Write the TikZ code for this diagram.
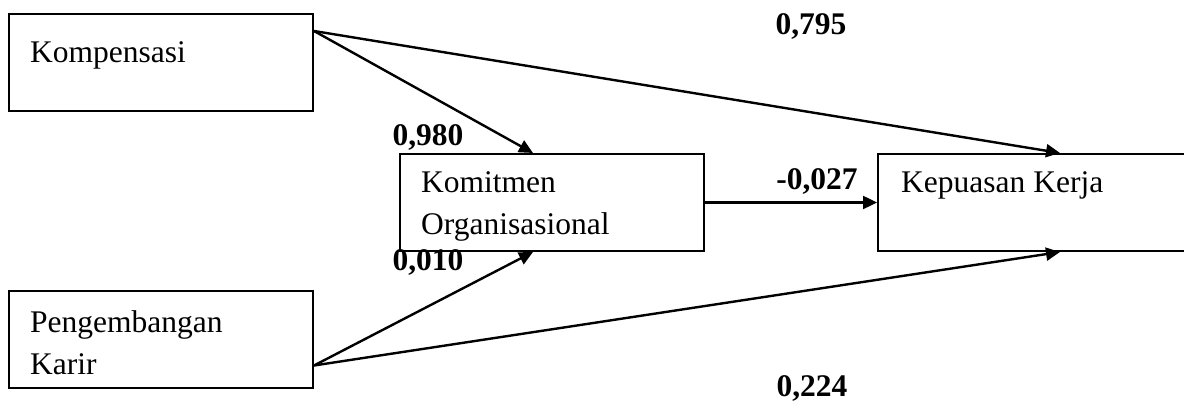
\documentclass[tikz,border=0pt]{standalone}
\usepackage{fontspec}
\setmainfont{Liberation Serif}
\usetikzlibrary{arrows.meta,calc}
\begin{document}
\begin{tikzpicture}[x=1pt,y=-1pt,
  box/.style={draw,line width=2pt,inner sep=0pt,minimum width=304pt,minimum height=97pt},
  txt/.style={anchor=base west,inner sep=0pt,font=\fontsize{31.5}{38}\selectfont},
  lbl/.style={anchor=base,inner sep=0pt,font=\fontsize{31.5}{38}\selectfont\bfseries},
  arr/.style={line width=2.4pt,-{Triangle[length=14pt,width=13pt]}}]
\useasboundingbox (0,0) rectangle (1184,403);
\begin{scope}
\clip (0,0) rectangle (1184,403);
\node[box] (komp) at (161,62.5) {};
\node[box] (peng) at (161,340) {};
\node[box] (komit) at (552,202.5) {};
\node[box,minimum width=320pt] (kep) at (1038,202.5) {};
\end{scope}
\node[txt] (tkomp) at (30,63) {Kompensasi};
\node[txt] (tpeng1) at (30,333) {Pengembangan};
\node[txt] (tpeng2) at (30,375) {Karir};
\node[txt] (tkomit1) at (421,193) {Komitmen};
\node[txt] (tkomit2) at (421,235) {Organisasional};
\node[txt] (tkep) at (901,193) {Kepuasan Kerja};
\node[lbl] (l795) at (811,35) {0,795};
\node[lbl] (l980) at (428,146) {0,980};
\node[lbl] (l027) at (817,190) {-0,027};
\node[lbl] (l010) at (428,271) {0,010};
\node[lbl] (l224) at (812,396) {0,224};
\coordinate (kompout) at ($(komp.north east)+(0,18)$);
\coordinate (pengout) at ($(peng.north east)+(0,75)$);
\draw[arr] (kompout) -- (komit.north -| 533,0);
\draw[arr] (kompout) -- (kep.north -| 1060,0);
\draw[arr] (pengout) -- (komit.south -| 533,0);
\draw[arr] (pengout) -- (kep.south -| 1060,0);
\draw[arr] (komit.east) -- (kep.west);
\end{tikzpicture}
\end{document}
